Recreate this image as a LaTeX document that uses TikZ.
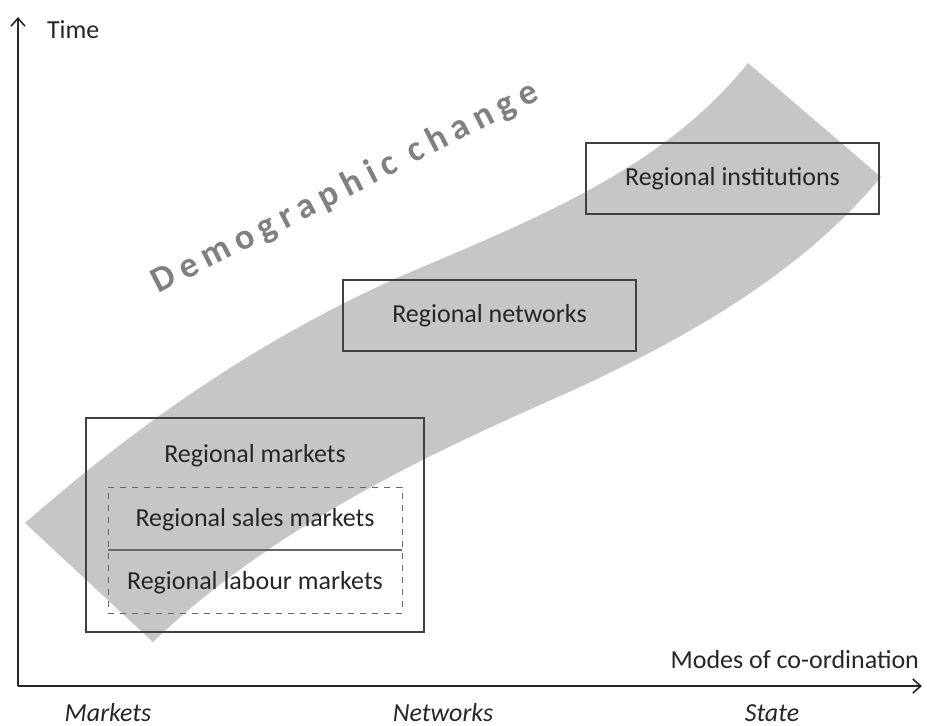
\documentclass[tikz,border=0pt]{standalone}
\usepackage{fontspec}
\setmainfont{Carlito}
\newfontfamily\spacedfont[LetterSpace=20]{Carlito}
\usetikzlibrary{arrows.meta}
\definecolor{bandgray}{RGB}{198,198,198}

\begin{document}
\begin{tikzpicture}[x=0.5pt, y=-0.5pt, font=\fontsize{13}{15}\selectfont, text=black!85,
		box/.style={draw=black!75, line width=0.7pt, inner sep=0pt},
		axis/.style={draw=black!85, line width=0.8pt, -{Straight Barb[length=4pt,width=7pt]}},
		mode/.style={font=\fontsize{13}{15}\selectfont\itshape, anchor=base, inner sep=0pt}
		]
		\useasboundingbox (0,0) rectangle (927,725);
		% the band
		\fill[bandgray] (25,523) .. controls (120,440) and (250,340) .. (420,268)
		.. controls (560,209) and (670,160) .. (748,63) -- (881,177)
		.. controls (820,250) and (730,320) .. (560,396)
		.. controls (450,445) and (280,520) .. (153,642) -- cycle;
		\node (demo) [rotate=27, text=black!50, font=\fontsize{18}{20}\selectfont\spacedfont\bfseries] at (345,188) {Demographic change};
		% axes
		\coordinate (o) at (18,686);
		\coordinate (ytop) at (18,17);
		\coordinate (xend) at (922,686);
		\draw[axis] (o) -- (ytop);
		\draw[axis] (o) -- (xend);
		\node (time) [anchor=west] at (40,30) {Time};
		\node (modes) [anchor=east] at (926,660) {Modes of co-ordination};
		\node (mkt) [mode] at (108,721) {Markets};
		\node (net) [mode] at (443,721) {Networks};
		\node (state) [mode] at (772,721) {State};
		% boxes
		\node (mktbox) [box, minimum width=169pt, minimum height=107pt] at (255,525) {};
		\node (subbox) [box, dashed, draw=black!60, line width=0.4pt, minimum width=147pt, minimum height=63pt] at (255,550) {};
		\draw[black!60, line width=0.6pt] (subbox.west) -- (subbox.east);
		\node (rm) at (255,456) {Regional markets};
		\node (rsm) at (255,520) {Regional sales markets};
		\node (rlm) at (255,583) {Regional labour markets};
		\node (netbox) [box, minimum width=146.5pt, minimum height=35.5pt] at (489.5,315.5) {Regional networks};
		\node (instbox) [box, minimum width=146.5pt, minimum height=35.5pt] at (732.5,178.5) {Regional institutions};
	\end{tikzpicture}
\end{document}
